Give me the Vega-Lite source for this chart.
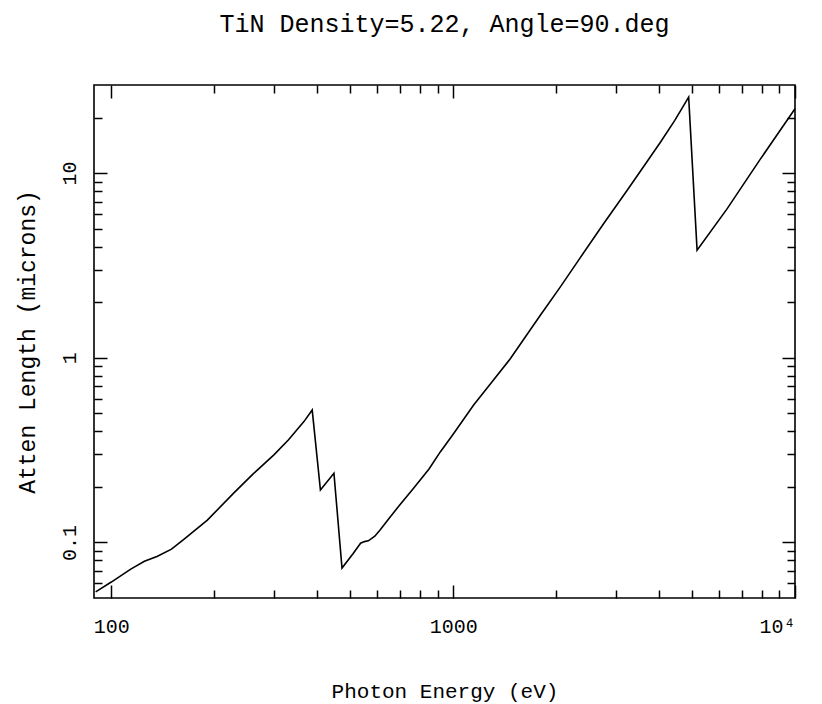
{
  "$schema": "https://vega.github.io/schema/vega-lite/v6.json",
  "width": 701,
  "height": 513,
  "autosize": {"type": "none"},
  "padding": {"left": 94, "top": 85, "right": 27, "bottom": 106},
  "background": "white",
  "title": {"text": "TiN Density=5.22, Angle=90.deg", "font": "Liberation Mono", "fontSize": 25, "fontWeight": "normal", "color": "black", "anchor": "middle", "offset": 47},
  "config": {
    "view": {"stroke": "black", "strokeWidth": 1.6},
    "axis": {"grid": false, "domain": false, "tickColor": "black", "tickWidth": 1.5, "labelFont": "Liberation Mono", "titleFont": "Liberation Mono", "labelColor": "black", "titleColor": "black", "titleFontWeight": "normal", "labelFontSize": 20, "titleFontSize": 22}
  },
  "data": {"values": [
    {"E": 90, "L": 0.054}, {"E": 100, "L": 0.061}, {"E": 114, "L": 0.0717}, {"E": 125, "L": 0.079},
    {"E": 136, "L": 0.084}, {"E": 150, "L": 0.092}, {"E": 163, "L": 0.104}, {"E": 191, "L": 0.132},
    {"E": 228, "L": 0.185}, {"E": 260, "L": 0.235}, {"E": 299, "L": 0.298}, {"E": 330, "L": 0.36},
    {"E": 366, "L": 0.451}, {"E": 387, "L": 0.521}, {"E": 409, "L": 0.192}, {"E": 448, "L": 0.237},
    {"E": 473, "L": 0.0726}, {"E": 510, "L": 0.087}, {"E": 536, "L": 0.099}, {"E": 550, "L": 0.101},
    {"E": 565, "L": 0.102}, {"E": 590, "L": 0.108}, {"E": 612, "L": 0.117}, {"E": 650, "L": 0.135},
    {"E": 693, "L": 0.157}, {"E": 767, "L": 0.197}, {"E": 850, "L": 0.25}, {"E": 918, "L": 0.31},
    {"E": 1000, "L": 0.385}, {"E": 1148, "L": 0.555}, {"E": 1300, "L": 0.742}, {"E": 1471, "L": 0.99},
    {"E": 1799, "L": 1.7}, {"E": 2059, "L": 2.42}, {"E": 2328, "L": 3.38}, {"E": 2754, "L": 5.32},
    {"E": 3226, "L": 8.05}, {"E": 3600, "L": 10.8}, {"E": 4039, "L": 14.7}, {"E": 4450, "L": 19.3},
    {"E": 4886, "L": 25.8}, {"E": 5171, "L": 3.82}, {"E": 6327, "L": 6.4}, {"E": 7917, "L": 11.9},
    {"E": 9000, "L": 16.8}, {"E": 10000, "L": 22.3}
  ]},
  "layer": [
    {
      "mark": {"type": "line", "color": "black", "strokeWidth": 1.6},
      "encoding": {
        "x": {"field": "E", "type": "quantitative", "scale": {"type": "log", "domain": [89, 10000], "nice": false},
          "axis": {"orient": "bottom", "values": [100, 1000, 10000], "tickSize": -13, "labelPadding": 31, "labelExpr": "datum.value >= 10000 ? '10⁴' : format(datum.value, 'd')", "title": "Photon Energy (eV)", "titleFontSize": 21, "titlePadding": 44}},
        "y": {"field": "L", "type": "quantitative", "scale": {"type": "log", "domain": [0.05, 30], "nice": false},
          "axis": {"orient": "left", "values": [0.1, 1, 10], "tickSize": -13, "labelAngle": -90, "labelPadding": 28, "labelExpr": "format(datum.value, '~g')", "title": "Atten Length (microns)", "titleFontSize": 23, "titlePadding": 20}}
      }
    },
    {
      "mark": {"type": "point", "opacity": 0},
      "encoding": {
        "x": {"field": "E", "type": "quantitative", "axis": {"orient": "bottom", "values": [200, 300, 400, 500, 600, 700, 800, 900, 2000, 3000, 4000, 5000, 6000, 7000, 8000, 9000], "tickSize": -8, "labels": false, "title": null}},
        "y": {"field": "L", "type": "quantitative", "axis": {"orient": "left", "values": [0.06, 0.07, 0.08, 0.09, 0.2, 0.3, 0.4, 0.5, 0.6, 0.7, 0.8, 0.9, 2, 3, 4, 5, 6, 7, 8, 9, 20], "tickSize": -8, "labels": false, "title": null}}
      }
    },
    {
      "mark": {"type": "point", "opacity": 0},
      "encoding": {
        "x": {"field": "E", "type": "quantitative", "axis": {"orient": "top", "values": [100, 1000, 10000], "tickSize": -13, "labels": false, "title": null}},
        "y": {"field": "L", "type": "quantitative", "axis": {"orient": "right", "values": [0.1, 1, 10], "tickSize": -13, "labels": false, "title": null}}
      }
    },
    {
      "mark": {"type": "point", "opacity": 0},
      "encoding": {
        "x": {"field": "E", "type": "quantitative", "axis": {"orient": "top", "values": [200, 300, 400, 500, 600, 700, 800, 900, 2000, 3000, 4000, 5000, 6000, 7000, 8000, 9000], "tickSize": -8, "labels": false, "title": null}},
        "y": {"field": "L", "type": "quantitative", "axis": {"orient": "right", "values": [0.06, 0.07, 0.08, 0.09, 0.2, 0.3, 0.4, 0.5, 0.6, 0.7, 0.8, 0.9, 2, 3, 4, 5, 6, 7, 8, 9, 20], "tickSize": -8, "labels": false, "title": null}}
      }
    }
  ],
  "resolve": {"axis": {"x": "independent", "y": "independent"}}
}
